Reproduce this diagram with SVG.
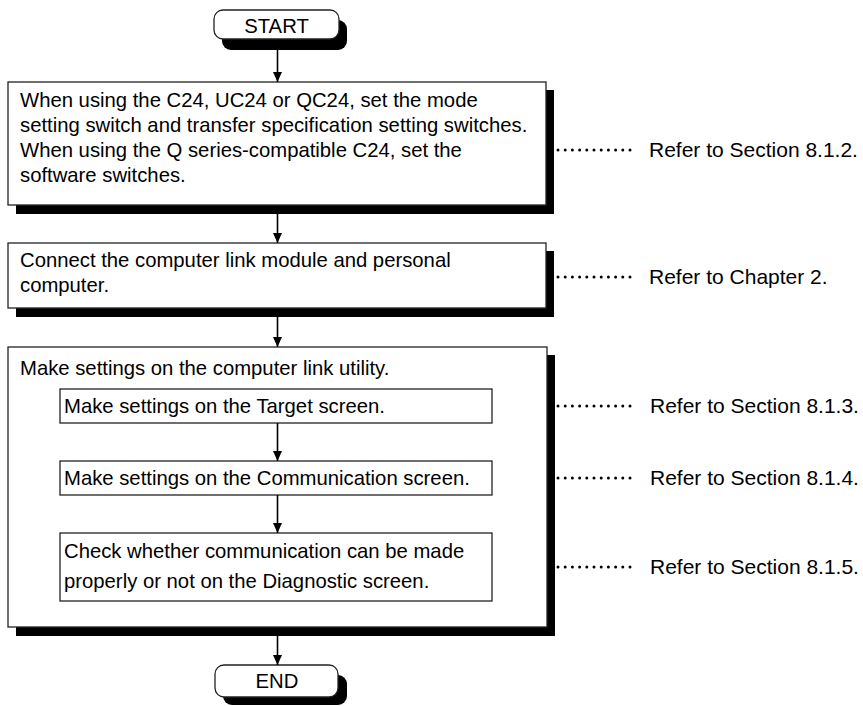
<svg xmlns="http://www.w3.org/2000/svg" width="863" height="706" viewBox="0 0 863 706">
<defs>
<style>
text{font-family:"Liberation Sans",Arial,sans-serif;font-size:20.3px;fill:#000}
.ref{font-size:21px}
.box{fill:#fff;stroke:#222;stroke-width:1.3}
.sh{fill:#000}
.c{stroke:#000;stroke-width:1.6;fill:none}
.dots{stroke:#000;stroke-width:3;stroke-linecap:round;stroke-dasharray:0 7.2;fill:none}
.mid{text-anchor:middle}
</style>
<marker id="ah" viewBox="0 0 10 10" refX="10" refY="5" markerWidth="10" markerHeight="10" markerUnits="userSpaceOnUse" orient="auto">
<path d="M0,0.5 L10,5 L0,9.5 Z" fill="#000"/>
</marker>
</defs>
<rect width="863" height="706" fill="#fff"/>
<g id="start">
<rect class="sh" x="222" y="20" width="125" height="30" rx="9"/>
<rect class="box" x="214" y="10" width="125" height="29" rx="9"/>
<text class="mid" x="276.5" y="33">START</text>
</g>
<g id="step1">
<rect class="sh" x="16" y="90" width="538" height="124"/>
<rect class="box" x="8" y="82" width="538" height="123"/>
<text x="20" y="107">When using the C24, UC24 or QC24, set the mode</text>
<text x="20" y="132">setting switch and transfer specification setting switches.</text>
<text x="20" y="157">When using the Q series-compatible C24, set the</text>
<text x="20" y="182">software switches.</text>
</g>
<g id="step2">
<rect class="sh" x="16" y="251" width="538" height="66"/>
<rect class="box" x="8" y="243" width="538" height="65"/>
<text x="20" y="267">Connect the computer link module and personal</text>
<text x="20" y="292">computer.</text>
</g>
<g id="step3">
<rect class="sh" x="16" y="355" width="539" height="281"/>
<rect class="box" x="8" y="347" width="539" height="280"/>
<text x="20" y="375">Make settings on the computer link utility.</text>
</g>
<g id="step3a">
<rect class="box" x="60" y="389" width="432" height="34"/>
<text x="64" y="413">Make settings on the Target screen.</text>
</g>
<g id="step3b">
<rect class="box" x="60" y="461" width="432" height="34"/>
<text x="64" y="485">Make settings on the Communication screen.</text>
</g>
<g id="step3c">
<rect class="box" x="60" y="533" width="432" height="68"/>
<text x="64" y="558">Check whether communication can be made</text>
<text x="64" y="588">properly or not on the Diagnostic screen.</text>
</g>
<g id="end">
<rect class="sh" x="223" y="675" width="124" height="30" rx="9"/>
<rect class="box" x="215" y="665" width="123" height="32" rx="9"/>
<text class="mid" x="277" y="688">END</text>
</g>
<g id="refs">
<line class="dots" x1="558" y1="150" x2="631" y2="150"/>
<text class="ref" x="649" y="157">Refer to Section 8.1.2.</text>
<line class="dots" x1="558" y1="277" x2="631" y2="277"/>
<text class="ref" x="649" y="284">Refer to Chapter 2.</text>
<line class="dots" x1="558" y1="406" x2="631" y2="406"/>
<text class="ref" x="650" y="413">Refer to Section 8.1.3.</text>
<line class="dots" x1="558" y1="478" x2="631" y2="478"/>
<text class="ref" x="650" y="485">Refer to Section 8.1.4.</text>
<line class="dots" x1="558" y1="567" x2="631" y2="567"/>
<text class="ref" x="650" y="574">Refer to Section 8.1.5.</text>
</g>
<g id="connectors">
<line class="c" x1="277.5" y1="50" x2="277.5" y2="82" marker-end="url(#ah)"/>
<line class="c" x1="277.5" y1="214" x2="277.5" y2="243" marker-end="url(#ah)"/>
<line class="c" x1="277.5" y1="317" x2="277.5" y2="347" marker-end="url(#ah)"/>
<line class="c" x1="277.5" y1="423" x2="277.5" y2="461" marker-end="url(#ah)"/>
<line class="c" x1="277.5" y1="495" x2="277.5" y2="533" marker-end="url(#ah)"/>
<line class="c" x1="277.5" y1="636" x2="277.5" y2="665" marker-end="url(#ah)"/>
</g>
</svg>
